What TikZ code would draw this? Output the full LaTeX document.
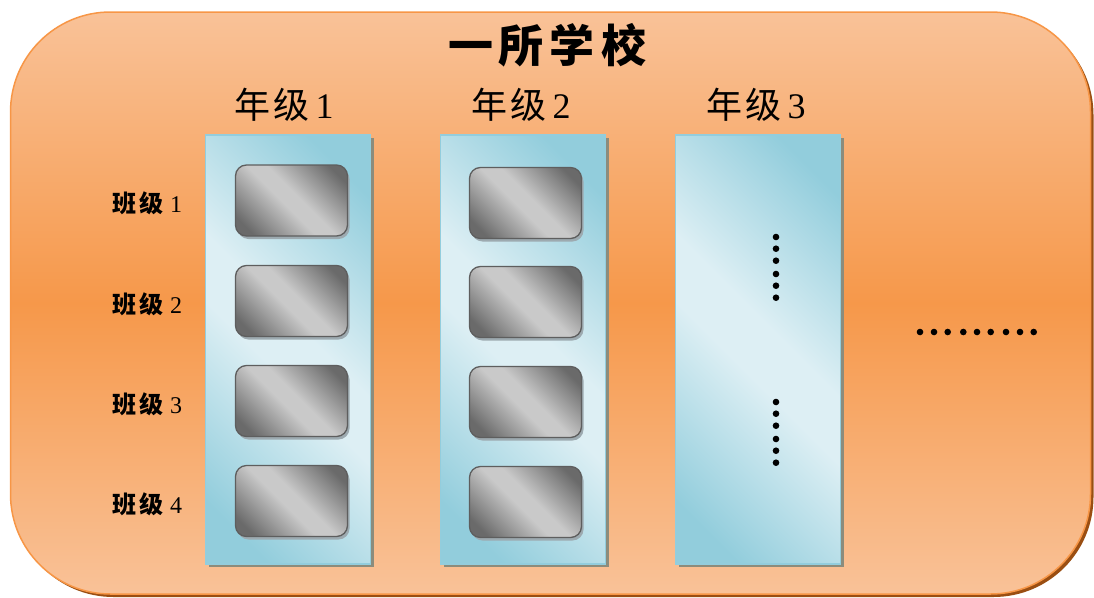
\documentclass[tikz,border=0pt]{standalone}
\usepackage{fontspec}
\setmainfont{Liberation Serif}
\newfontfamily\cjk{Noto Sans CJK SC}
\usetikzlibrary{shadows}
\definecolor{orlight}{HTML}{F9C298}
\definecolor{ordark}{HTML}{F6984A}
\definecolor{orline}{HTML}{F79646}
\definecolor{orshadow}{HTML}{9A4E12}
\definecolor{bllight}{HTML}{DDEFF4}
\definecolor{bldark}{HTML}{92CDDC}
\definecolor{blline}{HTML}{93CDDD}
\definecolor{colshadow}{HTML}{8C8C7C}
\definecolor{gylight}{HTML}{C9C9C9}
\definecolor{gydark}{HTML}{6A6A6A}
\definecolor{gyline}{HTML}{5E5E5E}
\definecolor{gyshadow}{HTML}{9DAAB0}
\pgfdeclareverticalshading{grayband}{100bp}{color(0bp)=(gydark); color(22bp)=(gydark); color(46bp)=(gylight); color(54bp)=(gylight); color(78bp)=(gydark); color(100bp)=(gydark)}
\pgfdeclareverticalshading{blueband}{100bp}{color(0bp)=(bldark); color(22bp)=(bldark); color(46bp)=(bllight); color(54bp)=(bllight); color(78bp)=(bldark); color(100bp)=(bldark)}
\begin{document}
\begin{tikzpicture}[x=1pt,y=-1pt,
  school/.style={draw=orline, line width=1.5pt, rounded corners=100pt,
    top color=orlight, bottom color=orlight, middle color=ordark,
    minimum width=1080pt, minimum height=582pt, inner sep=0pt,
    drop shadow={shadow xshift=3pt, shadow yshift=-3pt, opacity=1, fill=orshadow}},
  gradecol/.style={draw=blline, line width=1.2pt,
    shade, shading=blueband, shading angle=-45,
    minimum width=165pt, minimum height=429pt, inner sep=0pt,
    drop shadow={shadow xshift=3pt, shadow yshift=-3pt, opacity=1, fill=colshadow}},
  classbox/.style={draw=gyline, line width=1.3pt, rounded corners=11pt,
    shade, shading=grayband, shading angle=-45,
    minimum width=112pt, minimum height=71pt, inner sep=0pt,
    drop shadow={shadow xshift=2pt, shadow yshift=-3pt, opacity=1, fill=gyshadow}},
  titletext/.style={font=\cjk\bfseries\fontsize{45}{48}\selectfont, inner sep=0pt},
  gradetext/.style={font=\fontsize{36}{40}\selectfont, inner sep=0pt},
  classtext/.style={font=\fontsize{24}{28}\selectfont, inner sep=0pt},
  dot/.style={fill=black}
]
\useasboundingbox (0,0) rectangle (1094,597);
\node[school] (school) at (550.5,303) {};
\node[titletext] (title) at (547,45) {一\hspace{6pt}所\hspace{6pt}学\hspace{6pt}校};

\node[gradecol] (g1) at (288,349.5) {};
\node[gradecol] (g2) at (523,349.5) {};
\node[gradecol] (g3) at (758,349.5) {};

\node[gradetext] (t1) at (284,105) {{\cjk 年\hspace{3pt}级}\hspace{6pt}1};
\node[gradetext] (t2) at (521,105) {{\cjk 年\hspace{3pt}级}\hspace{6pt}2};
\node[gradetext] (t3) at (756,105) {{\cjk 年\hspace{3pt}级}\hspace{6pt}3};

\foreach \i/\y in {1/200.5,2/301,3/401,4/501}{
  \node[classbox] (b1\i) at (291.5,\y) {};
  \node[classtext] (c\i) at (147,\y+3) {{\cjk\bfseries 班\hspace{4pt}级}\hspace{6pt}\i};
}
\foreach \i/\y in {1/203,2/302,3/402,4/502}{
  \node[classbox] (b2\i) at (525.5,\y) {};
}

\foreach \y in {237,248.7,260.7,274,285.7,297.7}{
  \fill[dot] (776,\y) circle (3.3);
  \fill[dot] (776,\y+165) circle (3.3);
}
\foreach \x in {920,934,947.7,963.3,977,990.7,1006,1020,1033.7}{
  \fill[dot] (\x,332) circle (3.3);
}
\end{tikzpicture}
\end{document}
